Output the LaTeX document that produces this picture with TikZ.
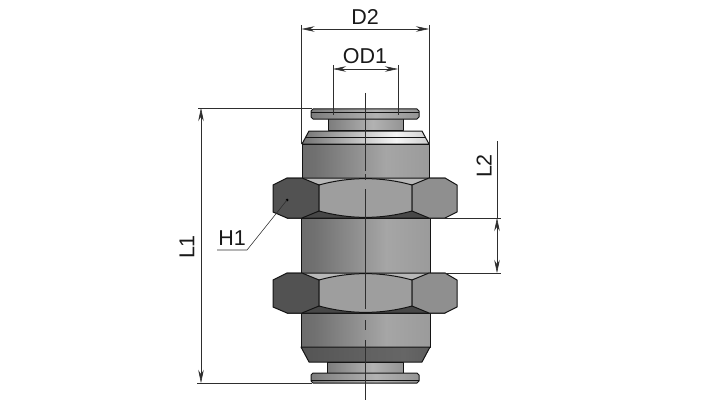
\documentclass[tikz,border=0pt]{standalone}
\usepackage{fontspec}
\setmainfont{Liberation Sans}
\usetikzlibrary{arrows.meta}
\definecolor{edge}{HTML}{141414}
\definecolor{dim}{HTML}{2E2E2E}
\pgfdeclarehorizontalshading{metal}{100bp}{color(0bp)=(black!66); color(12bp)=(black!62); color(30bp)=(black!56); color(58bp)=(black!35); color(62bp)=(black!36); color(86bp)=(black!42); color(92bp)=(black!62); color(95bp)=(black!45); color(100bp)=(black!55)}
\pgfdeclarehorizontalshading{collar}{100bp}{color(0bp)=(black!70); color(25bp)=(black!55); color(50bp)=(black!20); color(62bp)=(black!4); color(80bp)=(black!25); color(100bp)=(black!60)}
\pgfdeclarehorizontalshading{neck}{100bp}{color(0bp)=(black!75); color(20bp)=(black!55); color(55bp)=(black!30); color(80bp)=(black!45); color(100bp)=(black!70)}
\pgfdeclarehorizontalshading{chamfer}{100bp}{color(0bp)=(black!72); color(50bp)=(black!62); color(65bp)=(black!60); color(100bp)=(black!72)}
\tikzset{
	part/.style={draw=edge, line width=1pt, line join=round},
	dimline/.style={draw=dim, line width=0.55pt},
	dimarrow/.style={dimline, {Stealth[length=13pt,width=5.5pt]}-{Stealth[length=13pt,width=5.5pt]}},
	label/.style={font=\fontsize{21.5}{24}\selectfont, text=black!90, inner sep=0pt},
}
\begin{document}
\begin{tikzpicture}[x=1pt,y=-1pt]
	\useasboundingbox[fill=white] (0,0) rectangle (702,404);
	% top flange and neck
	\draw[part, shading=neck, shading angle=0] (328,118) rectangle (403,130);
	\draw[part, shading=neck] (313,109) -- (417,109) -- (419,111) -- (419,117) -- (417,119) -- (313,119) -- (311,117) -- (311,111) -- cycle;
	\draw[edge, line width=0.5pt] (311,112) -- (419,112);
	% upper body
	\draw[part, shading=collar] (302,144) -- (309,131) -- (422,131) -- (429,144) -- cycle;
	\draw[part, shading=metal] (302,144) rectangle (429,178);
	\draw[edge, line width=0.4pt] (306,137) -- (425,137);
	% middle body
	\draw[part, shading=metal] (301,218) rectangle (430,273);
	% lower body, flange
	\draw[part, shading=metal] (301,313) -- (301,347) -- (430,347) -- (430,313) -- cycle;
	\draw[part, shading=chamfer] (301,347) -- (309,362) -- (422,362) -- (430,347) -- cycle;
	\draw[part, shading=neck] (327,362) rectangle (403,373);
	\draw[part, shading=neck] (313,373) -- (417,373) -- (419,375) -- (419,381) -- (417,383) -- (313,383) -- (311,381) -- (311,375) -- cycle;
	\draw[edge, line width=0.5pt] (311,380) -- (419,380);
	% both nuts
	\foreach \y in {0,95} {
		\begin{scope}[shift={(0,\y)}]
			\draw[part, fill=black!28] (287,178) -- (445,178) -- (412,185) -- (319,185) -- cycle;
			\draw[part, fill=black!72] (287,218) -- (445,218) -- (412,211) -- (319,211) -- cycle;
			\draw[part, fill=black!68] (273,185) -- (287,178) -- (302,178) -- (319,185) -- (319,211) -- (302,218) -- (287,218) -- (273,212) -- cycle;
			\draw[part, fill=black!38] (319,185) .. controls (350,176.5) and (381,176.5) .. (412,185) -- (412,211) .. controls (381,219.5) and (350,219.5) .. (319,211) -- cycle;
			\draw[part, fill=black!44] (412,185) -- (429,178) -- (445,178) -- (457,185) -- (457,212) -- (445,218) -- (429,218) -- (412,211) -- cycle;
		\end{scope}
	}
	% center line
	\coordinate (axistop) at (365.5,93);
	\coordinate (axisbot) at (365.5,400);
	\draw[dimline, dash pattern=on 78pt off 3pt on 6pt off 9pt on 120pt off 11pt on 10pt off 10pt on 62pt off 10pt] (axistop) -- (axisbot);
	% D2
	\coordinate (dleft) at (301.5,25);
	\coordinate (dright) at (429,25);
	\draw[dimline] (dleft) -- (301.5,144);
	\draw[dimline] (dright) -- (429,144);
	\draw[dimarrow] (301.5,29) -- (429,29);
	\node[label] (dtwo) at (365,17) {D2};
	% OD1
	\coordinate (odleft) at (333,65);
	\coordinate (odright) at (398,65);
	\draw[dimline] (odleft) -- (333,115);
	\draw[dimline] (odright) -- (398,115);
	\draw[dimarrow] (333,69) -- (398,69);
	\node[label] (odone) at (365,56) {OD1};
	% L1
	\coordinate (ltop) at (198,108);
	\coordinate (lbot) at (197,383);
	\draw[dimline] (ltop) -- (312,108);
	\draw[dimline] (lbot) -- (312,383);
	\draw[dimarrow] (201,108) -- (201,383);
	\node[label, rotate=90] (lone) at (187,247) {L1};
	% L2
	\coordinate (ltwotop) at (445,218);
	\coordinate (ltwobot) at (445,273);
	\draw[dimline] (ltwotop) -- (501,218);
	\draw[dimline] (ltwobot) -- (501,273);
	\draw[dimline] (497,141) -- (497,218);
	\draw[dimarrow] (497,218) -- (497,273);
	\node[label, rotate=90] (ltwo) at (484,166) {L2};
	% H1
	\node[label] (hone) at (232,238) {H1};
	\coordinate (hdot) at (287,200);
	\fill[black] (hdot) circle (1.5pt);
	\draw[dimline] (217,250) -- (247,250) -- (hdot);
\end{tikzpicture}
\end{document}
